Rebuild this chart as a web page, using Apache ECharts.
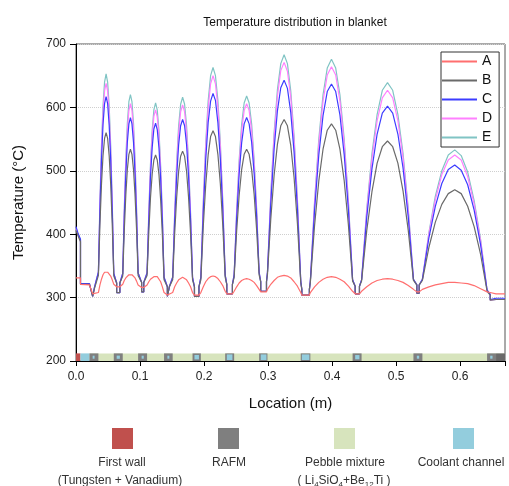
<!DOCTYPE html>
<html><head><meta charset="utf-8">
<script src="https://cdn.jsdelivr.net/npm/echarts@6/dist/echarts.min.js"></script>
<style>html,body{margin:0;padding:0;background:#fff}#c{width:509px;height:486px}</style>
</head><body><div id="c"></div>
<script>
// Location (m)
const xs = [
0, 0.003, 0.007, 0.007, 0.021, 0.026, 0.029, 0.029, 0.035,
0.0374, 0.0398, 0.0422, 0.0446, 0.047, 0.0494, 0.0518, 0.0542, 0.0566,
0.059, 0.0635, 0.0635, 0.0685, 0.0685, 0.073,
0.0754, 0.0778, 0.0802, 0.0826, 0.085, 0.0874, 0.0898, 0.0922, 0.0946,
0.097, 0.1025, 0.1025, 0.1058, 0.1058, 0.111,
0.1137, 0.1163, 0.119, 0.1216, 0.1243, 0.1269, 0.1296, 0.1322, 0.1349,
0.1375, 0.1427, 0.1427, 0.1458, 0.1458, 0.151,
0.1541, 0.1572, 0.1603, 0.1634, 0.1665, 0.1696, 0.1727, 0.1758, 0.1789,
0.182, 0.185, 0.185, 0.192, 0.192, 0.195,
0.1988, 0.2026, 0.2064, 0.2102, 0.214, 0.2178, 0.2216, 0.2254, 0.2292,
0.233, 0.2355, 0.2355, 0.2443, 0.2443, 0.247,
0.2509, 0.2548, 0.2587, 0.2626, 0.2665, 0.2704, 0.2743, 0.2782, 0.2821,
0.286, 0.2885, 0.2885, 0.2975, 0.2975, 0.299,
0.3042, 0.3094, 0.3146, 0.3198, 0.325, 0.3302, 0.3354, 0.3406, 0.3458,
0.351, 0.3527, 0.3527, 0.3645, 0.3645, 0.366,
0.3726, 0.3792, 0.3858, 0.3924, 0.399, 0.4056, 0.4122, 0.4188, 0.4254,
0.432, 0.436, 0.436, 0.4427, 0.4427, 0.446,
0.4541, 0.4622, 0.4703, 0.4784, 0.4865, 0.4946, 0.5027, 0.5108, 0.5189,
0.527, 0.5323, 0.5323, 0.536, 0.536, 0.541,
0.5511, 0.5612, 0.5713, 0.5814, 0.5915, 0.6016, 0.6117, 0.6218, 0.6319,
0.642, 0.6469, 0.6469, 0.656, 0.67
];

// Temperatures (°C)
const seriesA = [
331, 331, 331, 321, 320, 306, 304, 304, 308,
320, 329, 336, 340, 341, 340, 338, 334, 328,
321, 317, 317, 317, 317, 321,
327, 331, 334, 336, 337, 336, 334, 331, 326,
320, 316, 316, 316, 316, 320,
325, 329, 332, 333, 334, 333, 330, 325, 317,
308, 304, 304, 304, 304, 308,
317, 323, 328, 331, 332, 331, 328, 323, 317,
308, 304, 304, 304, 304, 308,
317, 325, 330, 333, 334, 333, 330, 325, 319,
310, 306, 306, 306, 306, 310,
317, 323, 327, 329, 330, 329, 327, 324, 319,
313, 309, 309, 309, 309, 313,
321, 327, 332, 334, 335, 334, 331, 325, 318,
308, 304, 304, 304, 304, 308,
317, 324, 329, 332, 333, 332, 329, 325, 318,
310, 306, 306, 306, 306, 310,
317, 323, 327, 329, 330, 329, 327, 324, 319,
313, 309, 309, 309, 309, 313,
317, 320, 322, 324, 324, 323, 322, 319, 314,
309, 308, 307, 306, 306
];
const seriesB = [
406, 398, 388, 321, 321, 302, 302, 315, 335,
416, 479, 524, 551, 560, 551, 524, 479, 415,
334, 323, 308, 308, 323, 334,
406, 462, 502, 526, 534, 526, 502, 462, 407,
335, 324, 309, 309, 324, 335,
403, 457, 495, 517, 525, 517, 494, 454, 399,
328, 317, 302, 302, 317, 328,
401, 458, 499, 523, 531, 523, 499, 458, 401,
328, 317, 302, 302, 317, 328,
413, 478, 525, 554, 563, 554, 526, 480, 415,
332, 321, 306, 306, 321, 332,
405, 461, 502, 526, 534, 526, 502, 463, 407,
336, 325, 310, 310, 325, 336,
424, 493, 542, 571, 581, 571, 540, 489, 417,
324, 313, 304, 304, 313, 324,
414, 484, 534, 564, 574, 564, 534, 485, 415,
326, 318, 306, 306, 318, 326,
406, 467, 512, 538, 547, 538, 512, 468, 406,
327, 320, 307, 307, 320, 327,
379, 419, 447, 464, 470, 464, 444, 412, 368,
310, 304, 296, 297, 297
];
const seriesC = [
412, 402, 392, 322, 322, 302, 302, 317, 340,
440, 517, 573, 606, 617, 606, 572, 517, 438,
338, 323, 308, 308, 323, 338,
427, 495, 545, 574, 584, 574, 545, 496, 427,
339, 324, 309, 309, 324, 339,
424, 490, 537, 566, 575, 565, 536, 488, 420,
332, 317, 302, 302, 317, 332,
422, 491, 541, 571, 581, 571, 541, 491, 422,
332, 317, 302, 302, 317, 332,
436, 518, 576, 610, 622, 611, 576, 519, 439,
336, 321, 306, 306, 321, 336,
425, 495, 544, 574, 584, 574, 545, 496, 428,
340, 325, 310, 310, 325, 340,
449, 534, 595, 631, 643, 630, 592, 529, 440,
326, 313, 304, 304, 313, 326,
438, 525, 587, 625, 637, 625, 588, 526, 439,
328, 318, 306, 306, 318, 328,
427, 503, 558, 591, 602, 591, 558, 504, 427,
329, 320, 307, 307, 320, 329,
394, 444, 480, 502, 509, 501, 478, 438, 383,
312, 305, 297, 299, 299
];
const seriesD = [
409, 400, 390, 322, 322, 302, 302, 317, 340,
447, 531, 590, 626, 638, 626, 590, 530, 446,
338, 323, 308, 308, 323, 338,
435, 510, 563, 595, 606, 595, 563, 510, 435,
339, 324, 309, 309, 324, 339,
431, 503, 555, 586, 596, 585, 554, 501, 427,
332, 317, 302, 302, 317, 332,
430, 506, 560, 593, 604, 593, 560, 506, 430,
332, 317, 302, 302, 317, 332,
447, 536, 599, 637, 650, 637, 600, 537, 449,
336, 321, 306, 306, 321, 336,
433, 509, 563, 595, 606, 595, 563, 510, 436,
340, 325, 310, 310, 325, 340,
459, 552, 618, 658, 671, 657, 616, 547, 450,
326, 313, 304, 304, 313, 326,
448, 542, 610, 651, 664, 651, 610, 543, 449,
328, 318, 306, 306, 318, 328,
436, 519, 579, 615, 627, 615, 579, 520, 436,
329, 320, 307, 307, 320, 329,
400, 454, 494, 517, 525, 517, 491, 448, 389,
312, 305, 296, 297, 297
];
const seriesE = [
410, 401, 391, 322, 322, 302, 302, 317, 340,
453, 540, 603, 640, 653, 640, 603, 540, 451,
338, 323, 308, 308, 323, 338,
440, 519, 575, 609, 620, 609, 575, 519, 440,
339, 324, 309, 309, 324, 339,
435, 510, 564, 596, 607, 596, 563, 508, 431,
332, 317, 302, 302, 317, 332,
434, 514, 571, 605, 616, 605, 571, 514, 434,
332, 317, 302, 302, 317, 332,
451, 544, 610, 650, 663, 650, 611, 545, 454,
336, 321, 306, 306, 321, 336,
438, 517, 573, 607, 618, 607, 574, 518, 440,
340, 325, 310, 310, 325, 340,
464, 560, 628, 669, 683, 669, 626, 555, 455,
326, 313, 304, 304, 313, 326,
452, 550, 620, 662, 676, 662, 620, 551, 453,
328, 318, 306, 306, 318, 328,
440, 527, 589, 627, 639, 627, 589, 527, 441,
329, 320, 307, 307, 320, 329,
402, 460, 500, 525, 533, 524, 498, 453, 392,
312, 305, 296, 297, 297
];

const seriesNames = ['A', 'B', 'C', 'D', 'E'];
const xTicks = [0, 0.1, 0.2, 0.3, 0.4, 0.5, 0.6];
const yTicks = [200, 300, 400, 500, 600, 700];

// Blanket layers (m)
const wallRange = [0, 0.007];
const frontCoolantRange = [0.007, 0.021];
const pebbleRange = [0.021, 0.67];
const rafmStart = [0.021, 0.059, 0.097, 0.1375, 0.182, 0.233, 0.286, 0.351, 0.432, 0.527, 0.642];
const rafmEnd   = [0.035, 0.073, 0.111, 0.151, 0.195, 0.247, 0.299, 0.366, 0.446, 0.541, 0.656];
const backPlateRange = [0.656, 0.67];
const channelStart = [0.026, 0.0635, 0.1025, 0.1427, 0.185, 0.2355, 0.2885, 0.3527, 0.436, 0.5323, 0.6469];
const channelEnd   = [0.029, 0.0685, 0.1058, 0.1458, 0.192, 0.2443, 0.2975, 0.3645, 0.4427, 0.536, 0.6505];

const FONT = '"Liberation Sans", Arial, Helvetica, sans-serif';
const colors = { A: '#ff6f6f', B: '#6a6a6a', C: '#3c3cff', D: '#ff80ff', E: '#80c4c4' };
const layerColors = ['#c0504d', '#93cddd', '#d7e4bd', '#7f7f7f', '#6a6a6a', '#93cddd'];

const vals = { A: seriesA, B: seriesB, C: seriesC, D: seriesD, E: seriesE };
function pairs(v) { return xs.map((x, i) => [x, v[i]]); }

// layer rows: [start, end, kind]
const layerRows = [];
layerRows.push([pebbleRange[0], pebbleRange[1], 2]);
layerRows.push([wallRange[0], wallRange[1], 0]);
layerRows.push([frontCoolantRange[0], frontCoolantRange[1], 1]);
rafmStart.forEach((s, i) => layerRows.push([s, rafmEnd[i], 3]));
layerRows.push([backPlateRange[0], backPlateRange[1], 4]);
channelStart.forEach((s, i) => layerRows.push([s, channelEnd[i], 5]));

const STRIP_LO = 200, STRIP_HI = 212;

const lineSeries = ['E', 'D', 'C', 'B', 'A'].map(n => ({
  name: n, type: 'line', data: pairs(vals[n]), showSymbol: false, symbol: 'none',
  lineStyle: { color: colors[n], width: 1.2 }, itemStyle: { color: colors[n] },
  z: 3, animation: false
}));

const chart = echarts.init(document.getElementById('c'));
chart.setOption({
  animation: false,
  backgroundColor: '#fff',
  title: {
    text: 'Temperature distribution in blanket', left: 290, top: 12, textAlign: 'center',
    textStyle: { fontFamily: FONT, fontSize: 12, fontWeight: 'normal', color: '#111' }
  },
  grid: { left: 76, right: 4, top: 44, bottom: 125, show: true, borderColor: '#555', borderWidth: 1 },
  legend: {
    data: seriesNames, orient: 'vertical', left: 441, top: 52,
    padding: [2.5, 7, 2.5, 1], itemGap: 5, itemWidth: 35, itemHeight: 2, icon: 'rect',
    borderColor: '#333', borderWidth: 1, backgroundColor: '#fff',
    textStyle: { fontFamily: FONT, fontSize: 14, color: '#111' },
    selectedMode: false
  },
  xAxis: {
    type: 'value', min: 0, max: 0.67, interval: 0.1,
    name: 'Location (m)', nameLocation: 'middle', nameGap: 35,
    nameTextStyle: { fontFamily: FONT, fontSize: 15, color: '#111' },
    axisLine: { lineStyle: { color: '#000', width: 1 } },
    axisTick: { length: 5, lineStyle: { color: '#000' } },
    axisLabel: {
      fontFamily: FONT, fontSize: 12, color: '#222', margin: 10,
      formatter: v => xTicks.some(t => Math.abs(t - v) < 1e-9) ? v.toFixed(1) : ''
    },
    splitLine: { show: false }
  },
  yAxis: {
    type: 'value', min: 200, max: 700, interval: 100,
    name: 'Temperature (°C)', nameLocation: 'middle', nameGap: 50,
    nameTextStyle: { fontFamily: FONT, fontSize: 15, color: '#111' },
    axisLine: { show: true, lineStyle: { color: '#000', width: 1 } },
    axisTick: { show: true, length: 6, lineStyle: { color: '#000' } },
    axisLabel: {
      fontFamily: FONT, fontSize: 12, color: '#222', margin: 10,
      formatter: v => yTicks.includes(v) ? String(v) : ''
    },
    splitLine: { show: true, lineStyle: { color: '#cfcfcf', type: 'dotted', width: 1 } }
  },
  series: [{
    type: 'custom', name: 'layers', data: layerRows, encode: { x: [0, 1] }, z: 2,
    silent: true,
    renderItem: function (params, api) {
      const x0 = api.value(0), x1 = api.value(1), kind = api.value(2);
      const p0 = api.coord([x0, STRIP_HI]);
      const p1 = api.coord([x1, STRIP_LO]);
      let x = p0[0], y = p0[1], w = p1[0] - p0[0], h = p1[1] - p0[1];
      if (kind === 5) {
        const dh = Math.min(Math.max(w, 3), h - 2);
        y = y + (h - dh) / 2; h = dh;
      }
      return { type: 'rect', shape: { x: x, y: y, width: w, height: h },
               style: { fill: layerColors[kind] } };
    }
  }].concat(lineSeries),
  graphic: [
    { type: 'rect', shape: { x: 112, y: 428, width: 21, height: 21 }, style: { fill: '#c0504d' } },
    { type: 'rect', shape: { x: 218, y: 428, width: 21, height: 21 }, style: { fill: '#7f7f7f' } },
    { type: 'rect', shape: { x: 334, y: 428, width: 21, height: 21 }, style: { fill: '#d7e4bd' } },
    { type: 'rect', shape: { x: 453, y: 428, width: 21, height: 21 }, style: { fill: '#93cddd' } },
    { type: 'text', x: 122, y: 463, style: { text: 'First wall', fontFamily: FONT, fontSize: 12, fill: '#333', align: 'center', verticalAlign: 'middle' } },
    { type: 'text', x: 120, y: 481, style: { text: '(Tungsten + Vanadium)', fontFamily: FONT, fontSize: 12, fill: '#333', align: 'center', verticalAlign: 'middle' } },
    { type: 'text', x: 229, y: 463, style: { text: 'RAFM', fontFamily: FONT, fontSize: 12, fill: '#333', align: 'center', verticalAlign: 'middle' } },
    { type: 'text', x: 345, y: 463, style: { text: 'Pebble mixture', fontFamily: FONT, fontSize: 12, fill: '#333', align: 'center', verticalAlign: 'middle' } },
    { type: 'text', x: 344, y: 481, style: {
        text: '{n|( Li}{s|4}{n|SiO}{s|4}{n|+Be}{s|12}{n|Ti )}', align: 'center', verticalAlign: 'middle',
        rich: { n: { fontFamily: FONT, fontSize: 12, fill: '#333', lineHeight: 15 },
                s: { fontFamily: FONT, fontSize: 8, fill: '#333', verticalAlign: 'bottom' } } } },
    { type: 'text', x: 461, y: 463, style: { text: 'Coolant channel', fontFamily: FONT, fontSize: 12, fill: '#333', align: 'center', verticalAlign: 'middle' } }
  ]
});
</script></body></html>
